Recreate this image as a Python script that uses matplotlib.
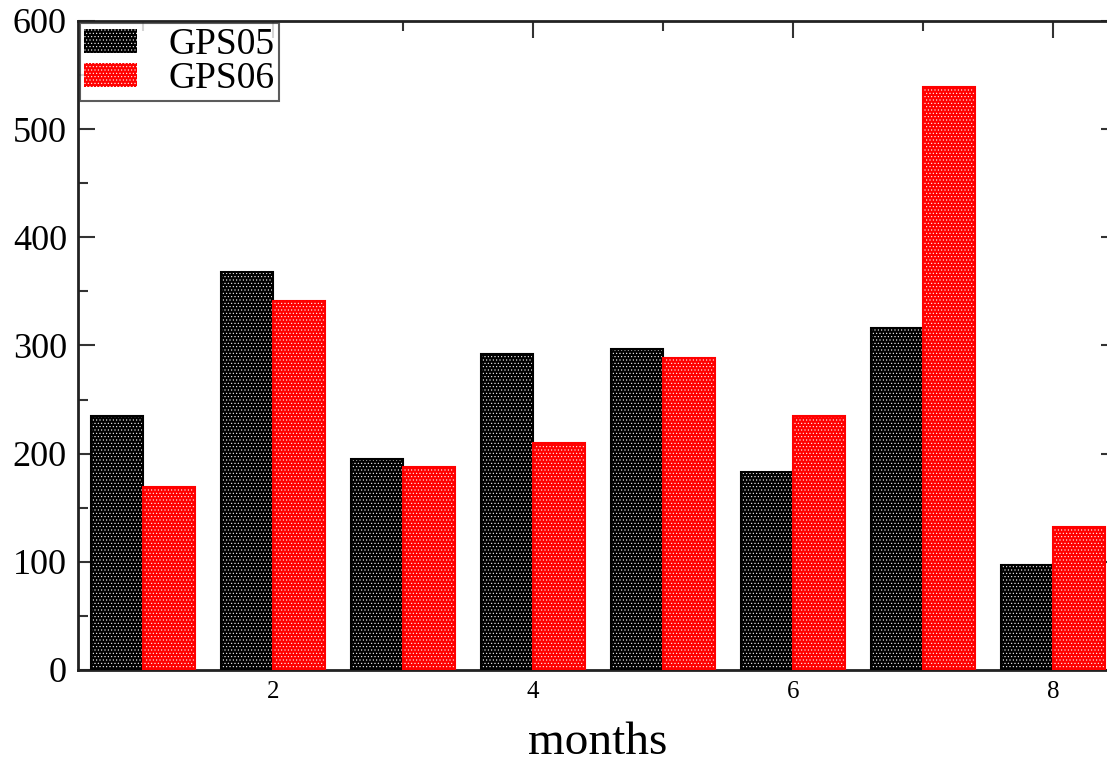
import matplotlib
matplotlib.use("Agg")
import matplotlib.pyplot as plt
import numpy as np
from matplotlib.ticker import MultipleLocator
from matplotlib.patches import Patch

months = [1, 2, 3, 4, 5, 6, 7, 8]
gps05 = [235, 368, 195, 292, 297, 183, 316, 97]
gps06 = [169, 341, 188, 210, 288, 235, 539, 132]
series_names = ["GPS05", "GPS06"]
series_colors = ["black", "red"]

plt.rcParams['font.family'] = ['Liberation Serif', 'DejaVu Serif']
plt.rcParams['hatch.linewidth'] = 0.4

HATCH = '.....'

W, H = 1107, 762
fig = plt.figure(figsize=(W / 100, H / 100), dpi=100)
ax = fig.add_axes([78 / W, (H - 670) / H, (1118 - 78) / W, (670 - 21) / H])

x = np.array(months, dtype=float)
bw = 0.4
for vals, off, col, name in [(gps05, -bw / 2, series_colors[0], series_names[0]),
                             (gps06, bw / 2, series_colors[1], series_names[1])]:
    ax.bar(x + off, vals, width=bw, color=col, edgecolor='white', hatch=HATCH,
           linewidth=0, zorder=2)
    ax.bar(x + off, vals, width=bw, fill=False, edgecolor=col, linewidth=1.5,
           zorder=3, label=name)

ax.set_xlim(0.5, 8.5)
ax.set_ylim(0, 600)
ax.xaxis.set_major_locator(MultipleLocator(2))
ax.xaxis.set_minor_locator(MultipleLocator(1))
ax.yaxis.set_major_locator(MultipleLocator(100))
ax.yaxis.set_minor_locator(MultipleLocator(50))
ax.tick_params(which='both', direction='in', top=True, right=True, width=1.5, color='#333333')
ax.tick_params(which='major', length=12)
ax.tick_params(which='minor', length=7)
ax.tick_params(axis='y', labelsize=26, pad=8)
ax.tick_params(axis='x', labelsize=18, pad=8)
for s in ax.spines.values():
    s.set_linewidth(2)
    s.set_color('#222222')

ax.set_xlabel('months', fontsize=34, labelpad=13)

leg_handles = [Patch(facecolor=series_colors[0], edgecolor='white', hatch=HATCH, linewidth=0),
               Patch(facecolor=series_colors[1], edgecolor='white', hatch=HATCH, linewidth=0)]
leg = ax.legend(leg_handles, series_names, loc='upper left', fontsize=27, frameon=True,
                fancybox=False, borderaxespad=0.05, handlelength=1.4, handleheight=0.6,
                handletextpad=0.85, labelspacing=0.0, borderpad=0.12)
leg.get_frame().set_edgecolor('#333333')
leg.get_frame().set_linewidth(1.5)

fig.savefig('out.png', dpi=100)
